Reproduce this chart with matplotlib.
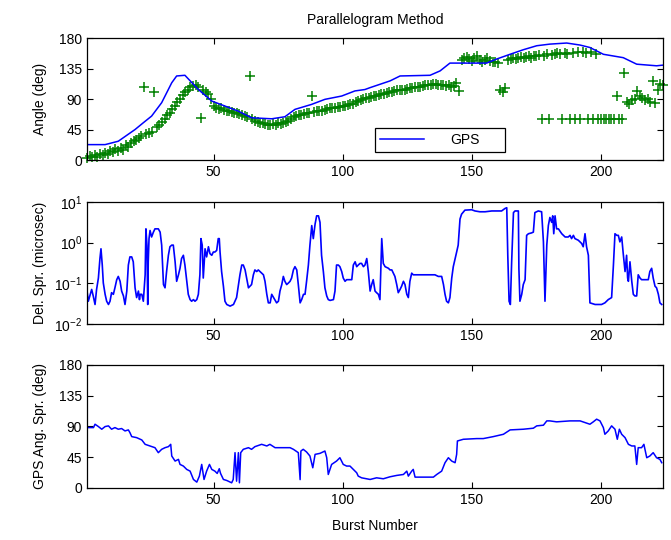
import matplotlib
matplotlib.use("Agg")
import matplotlib.pyplot as plt
from matplotlib.ticker import NullLocator, FixedLocator
import numpy as np

plt.rcParams['font.family'] = ['Liberation Sans', 'DejaVu Sans']
plt.rcParams['font.size'] = 10

# ---- top panel: GPS angle (line) and measured angle (crosses)
gps_burst = [1, 8, 13.1, 19.6, 22.8, 26.0, 29.9, 33.8, 35.7, 38.9, 44.1, 49.3, 54.4, 59.6,
             64.7, 72.5, 77.6, 81.5, 87.9, 93.1, 99.6, 104.7, 108.6, 110.6, 118.3, 122.2,
             133.8, 137.7, 141.5, 155.7, 159.6, 164.8, 169.9, 175.1, 180.2, 186.7, 191.9,
             195.7, 200.9, 208.6, 213.8, 221.5, 224]
gps_angle = [22.7, 22.7, 27.7, 45, 55, 64.8, 84.6, 114, 124, 125, 104, 87, 79.6, 72,
             62.3, 60.8, 63.8, 74.7, 82, 89.5, 94.4, 101.9, 104, 106.8, 116.7, 124,
             125, 131.5, 143, 143, 149, 156, 162.7, 168.6, 171, 172.6, 169.6,
             166, 156, 151, 141.4, 139, 140]

meas_angle = [3, 6, 4, 8, 5, 9, 7, 11, 9, 14,
              12, 16, 13, 18, 15, 22, 19, 25, 28, 30,
              33, 35, 108, 38, 40, 42, 101, 48, 52, 56,
              61, 66, 70, 75, 80, 85, 90, 96, 101, 104,
              107, 109, 110, 108, 62, 104, 100, 97, 90, 80,
              77, 75, 76, 74, 73, 72, 71, 70, 69, 68,
              66, 65, 64, 124, 60, 57, 56, 55, 54, 53,
              52, 51, 53, 52, 54, 53, 55, 56, 58, 60,
              63, 65, 66, 67, 68, 69, 70, 94, 71, 72,
              73, 73, 74, 75, 76, 76, 77, 78, 78, 79,
              80, 81, 82, 83, 85, 87, 88, 90, 91, 92,
              93, 94, 95, 96, 97, 98, 99, 100, 101, 102,
              103, 103, 104, 104, 105, 106, 106, 107, 108, 108,
              109, 110, 110, 111, 112, 112, 111, 110, 110, 109,
              110, 108, 109, 114, 102, 148, 150, 152, 149, 146,
              151, 153, 148, 144, 147, 150, 146, 144, 145, 143,
              104, 100, 106, 148, 149, 150, 149, 151, 152, 150,
              152, 153, 151, 154, 153, 155, 61, 154, 156, 61,
              155, 157, 158, 156, 61, 158, 157, 61, 158, 61,
              159, 61, 160, 158, 61, 159, 61, 157, 61, 61,
              61, 61, 61, 61, 61, 94, 61, 61, 129, 86,
              82, 88, 90, 102, 95, 92, 88, 90, 85, 117,
              84, 104, 112, 110]
meas_burst = np.arange(1, len(meas_angle) + 1)

# ---- middle panel: delay spread (log10 of microsec)
del_burst = [1, 1.5, 2.8, 3.4, 4.1, 4.7, 5.4, 6.0, 6.4, 6.9, 7.3, 8.0, 8.6, 9.3, 9.9, 10.5,
             11.2, 11.8, 12.5, 13.1, 13.8, 14.4, 15.1, 15.7, 16.4, 17.0, 17.6, 18.3, 18.9,
             19.6, 20.2, 20.9, 21.3, 21.6, 22.2, 22.8, 23.5, 23.8, 24.2, 24.5, 24.7, 25.0,
             25.4, 26.0, 26.7, 27.3, 28.0, 28.6, 29.3, 29.9, 30.6, 31.2, 31.8, 32.5, 33.1,
             33.8, 34.4, 35.1, 35.7, 36.4, 37.0, 37.6, 38.3, 38.9, 39.6, 40.2, 40.9, 41.5,
             42.2, 42.8, 43.5, 44.1, 44.7, 45.1, 45.6, 46.0, 46.7, 47.3, 48.0, 48.6, 49.3,
             49.9, 50.5, 51.2, 51.8, 52.2, 52.5, 53.1, 53.8, 54.4, 55.1, 56.4, 57.7, 58.9,
             60.2, 60.9, 61.5, 62.2, 62.8, 63.5, 64.1, 64.7, 65.4, 66.0, 66.7, 67.3, 68.6,
             69.3, 69.9, 70.6, 71.2, 71.9, 72.5,
             74.4, 75.1, 75.7, 76.4, 77.0, 77.6, 78.3, 79.0, 79.6, 80.2, 80.9, 81.5, 82.2,
             82.8, 83.5, 84.1, 84.8, 85.4, 86.0, 86.7, 87.3, 88.0, 88.6, 89.3, 89.9, 90.6,
             91.2, 91.8, 92.5, 93.1, 93.8, 94.4, 95.1, 96.4, 97.0, 97.6, 98.3, 98.9, 99.6,
             100.2, 100.9, 101.5, 102.2, 103.5, 104.1, 104.8, 105.4, 106.0, 106.7, 107.3,
             108.0, 108.6, 109.3, 109.9, 110.6, 111.2, 111.8, 112.5, 113.1, 113.8, 114.4,
             115.1, 115.7, 116.4, 117.7, 118.3, 119.0, 119.6, 120.2, 120.9, 121.5, 122.2,
             122.8, 123.5, 124.1, 124.8, 125.4, 126.0, 126.7, 127.3, 128.0, 130.6, 133.1,
             135.7, 137.0, 138.3, 139.0, 139.6, 140.2, 140.9, 141.5, 142.2, 142.8, 143.5,
             144.1, 144.7, 145.4, 146.0, 147.3,
             149.9, 151.2, 153.1, 155.1, 157.7, 160.2, 161.5, 162.8, 163.5, 163.9, 164.4,
             164.9, 165.4, 166.1, 166.7, 168.0, 168.2, 168.6, 169.3, 169.9, 170.6, 171.2,
             171.9, 173.1, 173.8, 174.4, 175.7, 177.0, 177.7, 178.1, 178.3, 179.0, 179.6,
             180.2, 180.9, 181.3, 181.7, 182.2, 182.8, 183.5, 184.8, 186.1, 187.3, 188.0,
             188.6, 189.3, 189.9, 191.2, 192.5, 193.1, 193.8, 194.4, 195.1, 195.7, 197.7,
             199.0, 200.2, 201.5, 202.8, 204.1, 204.8, 205.4, 206.1, 206.7, 207.3, 208.0,
             208.6, 209.3, 209.9, 210.3, 210.6, 211.2, 211.9, 212.5, 213.1, 213.8, 214.4,
             215.1, 215.7, 217.0, 218.3, 218.9, 219.6, 220.2, 220.9, 221.5, 222.2, 222.8,
             223.5]
del_log10 = [-1.19, -1.44, -1.15, -1.31, -1.52, -1.15, -0.87, -0.39, -0.15, -0.55, -0.99,
             -1.27, -1.44, -1.52, -1.44, -1.23, -1.27, -1.11, -0.91, -0.83, -0.95, -1.19,
             -1.31, -1.52, -1.19, -0.55, -0.35, -0.35, -0.47, -1.11, -1.35, -1.19, -1.40,
             -1.27, -1.27, -1.44, -0.79, 0.34, -0.06, -1.52, -0.47, 0.10, 0.30, 0.14, 0.26,
             0.34, 0.34, 0.34, 0.26, -0.06, -1.03, -1.11, -0.71, -0.31, -0.10, -0.06, -0.06,
             -0.47, -0.95, -0.79, -0.63, -0.39, -0.31, -0.55, -0.95, -1.27, -1.40, -1.44,
             -1.40, -1.44, -1.40, -1.27, -0.79, 0.10, -0.06, -0.87, -0.15, -0.35, -0.10,
             -0.27, -0.31, -0.23, -0.23, -0.19, 0.10, 0.10, -0.23, -0.71, -1.07, -1.44,
             -1.52, -1.56, -1.52, -1.35, -0.79, -0.55, -0.55, -0.67, -0.87, -1.11, -1.07,
             -1.03, -0.79, -0.67, -0.71, -0.67, -0.75, -0.79, -0.95, -1.27, -1.48, -1.48,
             -1.27,
             -1.48, -1.44, -1.19, -1.03, -0.83, -0.95, -1.03, -0.99, -0.95, -0.87, -0.67,
             -0.59, -0.67, -1.03, -1.48, -1.40, -1.27, -1.27, -0.95, -0.55, -0.06, 0.42,
             0.10, 0.46, 0.66, 0.66, 0.50, -0.31, -0.71, -1.11, -1.31, -1.40, -1.42, -1.40,
             -1.19, -0.55, -0.55, -0.59, -0.71, -0.87, -0.95, -0.91, -0.91, -0.91, -0.55,
             -0.47, -0.59, -0.55, -0.51, -0.51, -0.59, -0.55, -0.39, -0.71, -1.19, -1.03,
             -0.91, -1.19, -1.23, -1.27, -1.40, 0.10, -0.51, -0.59, -0.63, -0.67, -0.67,
             -0.75, -0.83, -1.03, -1.23, -1.15, -1.07, -0.95, -1.03, -1.27, -1.35, -0.95,
             -0.75, -0.79, -0.79, -0.79, -0.79, -0.79, -0.83, -0.83, -1.03, -1.27, -1.44,
             -1.48, -1.35, -0.87, -0.59, -0.39, -0.23, -0.06, 0.58, 0.70, 0.80,
             0.81, 0.78, 0.76, 0.76, 0.78, 0.78, 0.78, 0.84, 0.86, -0.31, -1.44, -1.52,
             -0.47, 0.74, 0.78, 0.78, -0.63, -1.44, -1.27, -1.03, -0.91, 0.18, 0.22, 0.24,
             0.26, 0.74, 0.78, 0.76, 0.02, -0.95, -1.44, -0.06, 0.42, 0.62, 0.50, 0.66,
             0.22, 0.66, 0.34, 0.34, 0.22, 0.14, 0.14, 0.18, 0.10, 0.18, 0.10, 0.06, -0.02,
             -0.10, 0.22, -0.10, -0.31, -1.48, -1.52, -1.52, -1.52, -1.48, -1.40, -1.35,
             -0.55, 0.22, 0.18, 0.18, 0.02, 0.14, -0.27, -0.71, -0.31, -0.87, -0.95, -0.47,
             -0.95, -1.27, -1.31, -1.31, -0.79, -0.87, -0.91, -0.91, -0.91, -0.71, -0.63,
             -0.87, -1.07, -1.11, -1.27, -1.48, -1.52]

# ---- bottom panel: GPS angle spread (deg)
spr_burst = [1, 3.5, 4.1, 5.4, 6.7, 8.0, 9.3, 10.5, 11.8, 13.1, 14.4, 15.7, 17.0, 17.6, 18.3,
             20.2, 22.2, 23.5, 25.4, 27.3, 28.6, 29.9, 31.2, 32.5, 33.4, 33.8, 35.1, 36.4,
             37.0, 38.3, 39.6, 40.9, 42.2, 43.5, 44.5, 45.4, 46.3, 47.3, 48.4, 49.3, 50.5,
             51.4, 52.2, 52.7, 53.8, 55.1, 57.0, 57.6, 58.3, 58.9, 59.6, 60.0, 60.5, 61.5,
             63.5, 64.7, 66.0, 68.6, 70.6, 71.8, 73.8, 75.7, 79.6, 80.9, 82.8, 83.5, 83.8,
             84.7, 86.0, 87.3, 88.4, 89.3, 91.2, 93.1, 93.8, 94.4, 95.7, 97.6, 98.9, 100.2,
             101.5, 102.8, 104.1, 105.4, 106.0, 107.3, 109.3,
             110.6, 113.1, 115.7, 118.3, 120.9, 123.5, 124.8, 125.4, 126.7, 127.3, 128.0,
             129.9, 135.1, 136.4, 138.3, 139.6, 140.9, 142.2, 143.5, 144.1, 144.4, 146.7,
             151.9, 154.4, 158.3, 162.2, 164.8, 169.9, 173.8, 175.1, 177.7, 179.0, 180.2,
             182.8, 188.0, 191.9, 193.8, 195.7, 197.0, 198.3, 199.6, 200.9, 201.5, 202.8,
             204.1, 205.4, 206.3, 207.1, 208.0, 209.3, 210.6, 211.9, 213.1, 213.8, 214.4,
             215.7, 216.6, 217.7, 218.9, 220.2, 221.5, 222.8, 223.5]
spr_angle = [88.4, 88.4, 93.3, 89.9, 86.0, 89.9, 90.9, 86.0, 88.4, 86.0, 87.0, 83.5, 85.0,
             81.1, 75.2, 73.7, 70.3, 63.9, 61.5, 59.0, 51.7, 56.6, 59.0, 60.5, 63.9, 46.8,
             39.4, 41.9, 34.5, 32.1, 27.2, 24.7, 12.5, 8.6, 17.4, 34.5, 12.5, 24.7, 34.5,
             27.2, 24.7, 21.3, 28.2, 21.3, 12.5, 11.0, 7.6, 12.5, 51.7, 10.0, 51.7, 7.6,
             51.7, 56.6, 59.0, 56.6, 60.5, 63.9, 61.5, 63.9, 59.0, 59.0, 59.0, 56.6, 51.7,
             12.3, 54.1, 56.6, 52.7, 46.8, 29.6, 49.2, 50.7, 54.1, 44.3, 19.8, 34.5, 39.4,
             44.3, 34.5, 32.1, 32.1, 27.2, 22.3, 17.4, 14.9, 13.5,
             12.5, 14.9, 13.5, 16.4, 18.4, 19.8, 24.7, 17.4, 24.7, 27.2, 15.9, 15.9, 15.9,
             19.8, 24.7, 37.0, 44.3, 39.4, 37.0, 49.2, 68.8, 71.3, 72.3, 72.3, 75.2, 78.6,
             85.0, 86.0, 87.5, 90.9, 91.9, 98.2, 98.2, 96.8, 98.2, 98.2, 95.8, 93.3, 96.8,
             100.7, 98.2, 88.4, 78.6, 83.5, 90.9, 86.0, 71.3, 86.0, 78.6, 73.7, 63.9, 61.5,
             61.5, 34.5, 59.0, 59.0, 63.9, 44.3, 46.8, 51.7, 44.3, 41.9, 37.0]

x_ticks = [50, 100, 150, 200]
angle_ticks = [0, 45, 90, 135, 180]

fig = plt.figure(figsize=(6.71, 5.4), dpi=100)

ax1 = fig.add_axes([0.1297, 0.7037, 0.8584, 0.2259])
ax2 = fig.add_axes([0.1297, 0.4000, 0.8584, 0.2259])
ax3 = fig.add_axes([0.1297, 0.0963, 0.8584, 0.2278])

blue = (0, 0, 1)
green = (0, 0.5, 0)

ax1.plot(meas_burst, meas_angle, linestyle="None", marker="+", color=green,
         markersize=7, markeredgewidth=1.1, clip_on=False)
ax1.plot(gps_burst, gps_angle, color=blue, linewidth=1.1, label="GPS")
ax1.set_ylim(0, 180)
ax1.set_yticks(angle_ticks)
ax1.set_ylabel("Angle (deg)")
ax1.set_title("Parallelogram Method", fontsize=10, pad=10)
leg = ax1.legend(loc="lower left", bbox_to_anchor=(0.5, 0.066, 0.226, 0.196), mode="expand",
                 handlelength=3.2, fancybox=False, framealpha=1, borderaxespad=0,
                 borderpad=0.35, handletextpad=1.9)
leg.get_frame().set_edgecolor("black")
leg.get_frame().set_linewidth(0.9)

ax2.semilogy(del_burst, 10 ** np.array(del_log10), color=blue, linewidth=1.2)
ax2.set_ylim(1e-2, 1e1)
ax2.yaxis.set_major_locator(FixedLocator([1e-2, 1e-1, 1e0, 1e1]))
ax2.yaxis.set_minor_locator(NullLocator())
ax2.set_ylabel("Del. Spr. (microsec)")

ax3.plot(spr_burst, spr_angle, color=blue, linewidth=1.1)
ax3.set_ylim(0, 180)
ax3.set_yticks(angle_ticks)
ax3.set_ylabel("GPS Ang. Spr. (deg)")
ax3.set_xlabel("Burst Number", labelpad=9)

for ax in [ax1, ax2, ax3]:
    ax.set_xlim(1, 224)
    ax.set_xticks(x_ticks)
    ax.tick_params(direction="in", top=True, right=True, length=4, width=0.8, labelsize=10)
    for s in ax.spines.values():
        s.set_linewidth(0.9)
    ax.yaxis.set_label_coords(-0.07, 0.5)

fig.savefig("out.png", dpi=100)
